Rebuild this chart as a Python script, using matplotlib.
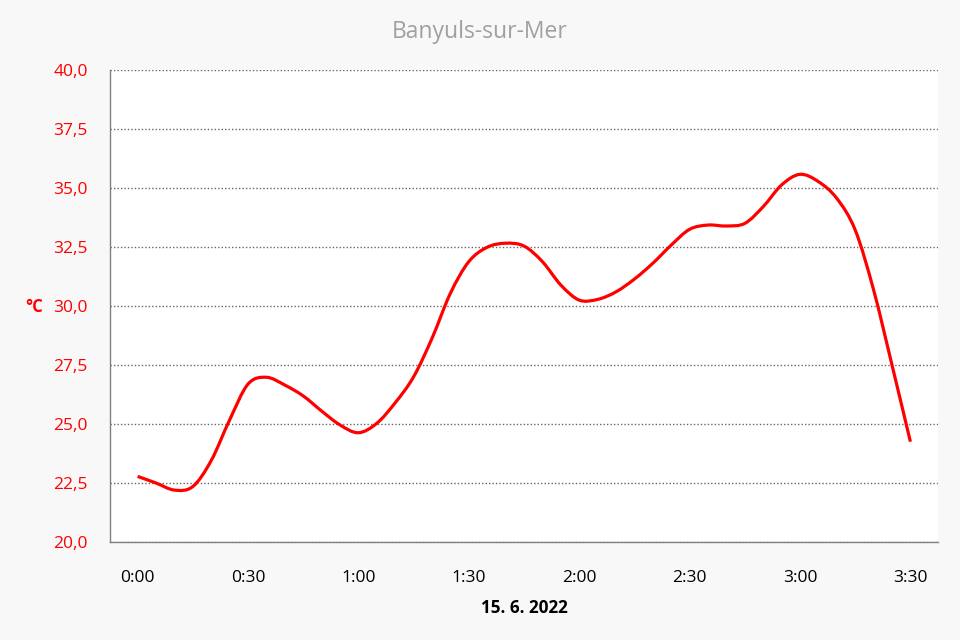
import numpy as np
import matplotlib
matplotlib.use("Agg")
import matplotlib.pyplot as plt
from matplotlib.path import Path
from matplotlib.patches import PathPatch
from matplotlib.ticker import FixedLocator, FuncFormatter

# Minutes after 0:00 on 15. 6. 2022 (read every 5 min from the picture)
minutes = [0, 5, 10, 15, 20, 25, 30, 35, 40, 45, 50, 55, 60, 65, 70, 75, 80, 85,
           90, 95, 100, 105, 110, 115, 120, 125, 130, 135, 140, 145, 150, 155,
           160, 165, 170, 175, 180, 185, 190, 195, 200, 205, 210]
temps = [22.78, 22.50, 22.20, 22.35, 23.45, 25.17, 26.69, 26.98, 26.65, 26.19,
         25.55, 24.96, 24.63, 25.03, 25.90, 27.00, 28.63, 30.54, 31.88, 32.49,
         32.66, 32.54, 31.88, 30.89, 30.25, 30.28, 30.60, 31.14, 31.81, 32.58,
         33.25, 33.43, 33.39, 33.50, 34.21, 35.13, 35.58, 35.27, 34.56, 33.22,
         30.68, 27.50, 24.25]
xtick_pos = [0, 30, 60, 90, 120, 150, 180, 210]
xtick_labels = ["0:00", "0:30", "1:00", "1:30", "2:00", "2:30", "3:00", "3:30"]
ytick_vals = [20.0, 22.5, 25.0, 27.5, 30.0, 32.5, 35.0, 37.5, 40.0]

title = "Banyuls-sur-Mer"
xlabel = "15. 6. 2022"
ylabel = "°C"

FONT = "Open Sans"

fig = plt.figure(figsize=(9.6, 6.4), dpi=100, facecolor="#f8f8f8")
ax = fig.add_axes([110 / 960, 1 - 542 / 640, 828 / 960, 472 / 640])
ax.set_facecolor("white")

# smooth curve (Catmull-Rom converted to cubic Bezier segments, drawn by matplotlib Path)
x = np.asarray(minutes, float)
y = np.asarray(temps, float)
verts = [(x[0], y[0])]
codes = [Path.MOVETO]
n = len(x)
for i in range(n - 1):
    p0 = (x[max(i - 1, 0)], y[max(i - 1, 0)])
    p1 = (x[i], y[i])
    p2 = (x[i + 1], y[i + 1])
    p3 = (x[min(i + 2, n - 1)], y[min(i + 2, n - 1)])
    c1 = (p1[0] + (p2[0] - p0[0]) / 6, p1[1] + (p2[1] - p0[1]) / 6)
    c2 = (p2[0] - (p3[0] - p1[0]) / 6, p2[1] - (p3[1] - p1[1]) / 6)
    verts += [c1, c2, p2]
    codes += [Path.CURVE4] * 3
ax.add_patch(PathPatch(Path(verts, codes), facecolor="none", edgecolor="#ff0000",
                       lw=2.3, capstyle="butt", joinstyle="round", zorder=3))

ax.set_xlim(-7.5, 217.5)
ax.set_ylim(20, 40)

ax.yaxis.set_major_locator(FixedLocator(ytick_vals))
ax.yaxis.set_major_formatter(FuncFormatter(lambda v, p: f"{v:.1f}".replace(".", ",")))
ax.set_xticks(xtick_pos)
ax.set_xticklabels(xtick_labels)

ax.grid(axis="y", color="#666666", linestyle=(0, (1, 1.5)), linewidth=1.0, zorder=1)
ax.grid(axis="x", visible=False)

for s in ["top", "right"]:
    ax.spines[s].set_visible(False)
for s in ["left", "bottom"]:
    ax.spines[s].set_color("#808080")
    ax.spines[s].set_linewidth(1.0)

ax.tick_params(axis="y", length=0, pad=16, labelcolor="#ff0000", labelsize=12.5)
ax.tick_params(axis="x", length=0, pad=20, labelcolor="black", labelsize=12.5)
for lab in ax.get_xticklabels() + ax.get_yticklabels():
    lab.set_fontfamily(FONT)

fig.text(0.5, 1 - 32 / 640, title, ha="center", va="center", color="#a0a0a0",
         fontsize=16.5, family=FONT)
fig.text(524 / 960, 1 - 608 / 640, xlabel, ha="center", va="center", color="black",
         fontsize=12.3, fontweight="bold", family=FONT)
fig.text(34 / 960, 1 - 307 / 640, ylabel, ha="center", va="center", color="#ff0000",
         fontsize=12, fontweight="bold", family=FONT)

fig.savefig("out.png", dpi=100, facecolor=fig.get_facecolor())
